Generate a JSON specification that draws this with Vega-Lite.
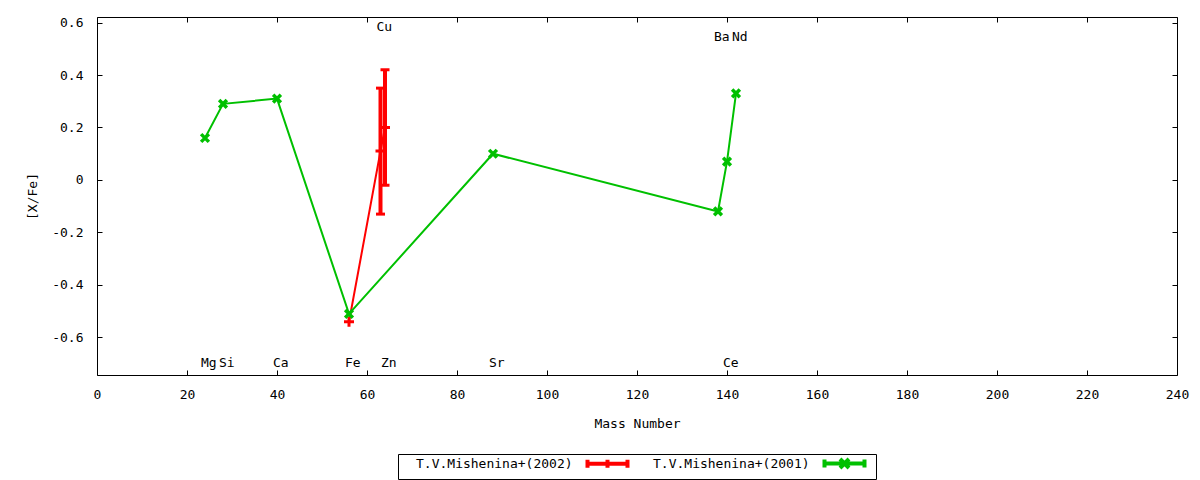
{
  "$schema": "https://vega.github.io/schema/vega-lite/v6.json",
  "width": 1080,
  "height": 358,
  "autosize": {"type": "none"},
  "padding": {"left": 97, "top": 17, "right": 23, "bottom": 105},
  "background": "white",
  "config": {
    "view": {"stroke": "#000", "strokeWidth": 1},
    "font": "DejaVu Sans Mono",
    "axis": {
      "domain": false, "grid": false, "labelFlush": false,
      "tickColor": "#000", "tickSize": -5, "tickWidth": 1,
      "labelFont": "DejaVu Sans Mono", "labelFontSize": 13, "labelColor": "#000",
      "titleFont": "DejaVu Sans Mono", "titleFontSize": 13, "titleFontWeight": "normal", "titleColor": "#000"
    },
    "legend": {
      "orient": "none", "legendX": 301, "legendY": 437,
      "direction": "horizontal", "title": null,
      "strokeColor": "#000", "padding": 3, "fillColor": "white",
      "symbolSize": 16, "symbolStrokeWidth": 4, "labelOffset": 2, "columnPadding": 2,
      "labelFont": "DejaVu Sans Mono", "labelFontSize": 13, "labelColor": "#000", "labelLimit": 400
    }
  },
  "datasets": {
    "red": [
      {"series": "T.V.Mishenina+(2002)", "el": "Fe", "mass": 56, "xfe": -0.54},
      {"series": "T.V.Mishenina+(2002)", "el": "Cu", "mass": 63, "xfe": 0.11, "lo": -0.13, "hi": 0.35},
      {"series": "T.V.Mishenina+(2002)", "el": "Zn", "mass": 64, "xfe": 0.20, "lo": -0.02, "hi": 0.42}
    ],
    "green": [
      {"series": "T.V.Mishenina+(2001)", "el": "Mg", "mass": 24, "xfe": 0.16},
      {"series": "T.V.Mishenina+(2001)", "el": "Si", "mass": 28, "xfe": 0.29},
      {"series": "T.V.Mishenina+(2001)", "el": "Ca", "mass": 40, "xfe": 0.31},
      {"series": "T.V.Mishenina+(2001)", "el": "Fe", "mass": 56, "xfe": -0.51},
      {"series": "T.V.Mishenina+(2001)", "el": "Sr", "mass": 88, "xfe": 0.10},
      {"series": "T.V.Mishenina+(2001)", "el": "Ba", "mass": 138, "xfe": -0.12},
      {"series": "T.V.Mishenina+(2001)", "el": "Ce", "mass": 140, "xfe": 0.07},
      {"series": "T.V.Mishenina+(2001)", "el": "Nd", "mass": 142, "xfe": 0.33}
    ],
    "labels": [
      {"el": "Mg", "mass": 24, "labely": -0.697},
      {"el": "Si", "mass": 28, "labely": -0.697},
      {"el": "Ca", "mass": 40, "labely": -0.697},
      {"el": "Fe", "mass": 56, "labely": -0.697},
      {"el": "Cu", "mass": 63, "labely": 0.583},
      {"el": "Zn", "mass": 64, "labely": -0.697},
      {"el": "Sr", "mass": 88, "labely": -0.697},
      {"el": "Ba", "mass": 138, "labely": 0.545},
      {"el": "Ce", "mass": 140, "labely": -0.697},
      {"el": "Nd", "mass": 142, "labely": 0.545}
    ]
  },
  "encoding": {
    "x": {"field": "mass", "type": "quantitative", "scale": {"domain": [0, 240], "nice": false, "zero": false}},
    "y": {"field": "xfe", "type": "quantitative", "scale": {"domain": [-0.743, 0.621], "nice": false, "zero": false}}
  },
  "layer": [
    {
      "data": {"name": "red"},
      "mark": {"type": "line", "strokeWidth": 2},
      "encoding": {
        "x": {"field": "mass", "type": "quantitative", "title": "Mass Number",
          "axis": {"orient": "bottom", "values": [0, 20, 40, 60, 80, 100, 120, 140, 160, 180, 200, 220, 240], "format": "d", "labelPadding": 18, "titlePadding": 16}},
        "y": {"field": "xfe", "type": "quantitative", "title": "[X/Fe]",
          "axis": {"orient": "left", "values": [-0.6, -0.4, -0.2, 0, 0.2, 0.4, 0.6], "labelPadding": 19, "titlePadding": 12,
            "labelExpr": "datum.value == 0 ? '0' : replace(format(datum.value, '.1f'), '\u2212', '-')"}},
        "color": {"field": "series", "type": "nominal",
          "scale": {"domain": ["T.V.Mishenina+(2002)", "T.V.Mishenina+(2001)"], "range": ["#ff0000", "#00c000"]},
          "legend": {
            "encode": {
              "symbols": {
                "update": {
                  "fill": {"value": "transparent"},
                  "strokeWidth": {"value": 4},
                  "shape": {"signal": "datum.value === 'T.V.Mishenina+(2002)' ? 'M90,0H110M90,-2V2M110,-2V2M100,-2V2' : 'M90,0H110M90,-2V2M110,-2V2M97.75,-2.25L102.25,2.25M102.25,-2.25L97.75,2.25'"}
                }
              }
            }
          }}
      }
    },
    {
      "data": {"name": "red"},
      "transform": [{"filter": "isValid(datum.lo)"}],
      "mark": {"type": "rule", "color": "#ff0000", "strokeWidth": 4},
      "encoding": {
        "y": {"field": "lo", "type": "quantitative", "axis": null},
        "y2": {"field": "hi"},
        "x": {"field": "mass", "type": "quantitative", "axis": null}
      }
    },
    {
      "data": {"name": "red"},
      "transform": [{"filter": "isValid(datum.lo)"}],
      "mark": {"type": "tick", "color": "#ff0000", "orient": "horizontal", "size": 9, "thickness": 3, "opacity": 1},
      "encoding": {
        "y": {"field": "lo", "type": "quantitative", "axis": null},
        "x": {"field": "mass", "type": "quantitative", "axis": null}
      }
    },
    {
      "data": {"name": "red"},
      "transform": [{"filter": "isValid(datum.lo)"}],
      "mark": {"type": "tick", "color": "#ff0000", "orient": "horizontal", "size": 9, "thickness": 3, "opacity": 1},
      "encoding": {
        "y": {"field": "hi", "type": "quantitative", "axis": null},
        "x": {"field": "mass", "type": "quantitative", "axis": null}
      }
    },
    {
      "data": {"name": "red"},
      "mark": {"type": "point", "shape": "M-1,0H1M0,-1V1", "size": 100, "filled": false, "color": "#ff0000", "strokeWidth": 3, "opacity": 1},
      "encoding": {
        "x": {"field": "mass", "type": "quantitative", "axis": null},
        "y": {"field": "xfe", "type": "quantitative", "axis": null}
      }
    },
    {
      "data": {"name": "green"},
      "mark": {"type": "line", "strokeWidth": 2},
      "encoding": {
        "x": {"field": "mass", "type": "quantitative", "axis": null},
        "y": {"field": "xfe", "type": "quantitative", "axis": null},
        "color": {"field": "series", "type": "nominal"}
      }
    },
    {
      "data": {"name": "green"},
      "mark": {"type": "point", "shape": "M-1,-1L1,1M1,-1L-1,1", "size": 60, "filled": false, "color": "#00c000", "strokeWidth": 3.5, "opacity": 1},
      "encoding": {
        "x": {"field": "mass", "type": "quantitative", "axis": null},
        "y": {"field": "xfe", "type": "quantitative", "axis": null}
      }
    },
    {
      "data": {"name": "labels"},
      "mark": {"type": "text", "align": "left", "baseline": "middle", "dx": -4, "font": "DejaVu Sans Mono", "fontSize": 13, "color": "#000"},
      "encoding": {
        "x": {"field": "mass", "type": "quantitative",
          "axis": {"orient": "top", "values": [0, 20, 40, 60, 80, 100, 120, 140, 160, 180, 200, 220, 240], "labels": false, "title": null}},
        "y": {"field": "labely", "type": "quantitative",
          "axis": {"orient": "right", "values": [-0.6, -0.4, -0.2, 0, 0.2, 0.4, 0.6], "labels": false, "title": null}},
        "text": {"field": "el"}
      }
    }
  ],
  "resolve": {"axis": {"x": "independent", "y": "independent"}}
}
